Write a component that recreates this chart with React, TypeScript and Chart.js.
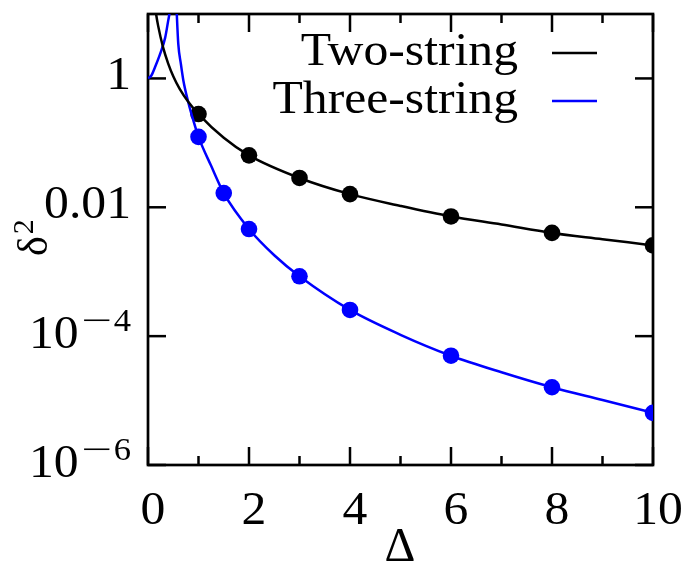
import React, { useEffect, useRef } from "react";
import Chart from "chart.js/auto";

// Data points (markers)
const twoStringX = [1, 2, 3, 4, 6, 8, 10];
const twoStringY = [0.28, 0.064, 0.0285, 0.016, 0.0072, 0.004, 0.00256];
const threeStringX = [1, 1.5, 2, 3, 4, 6, 8, 10];
const threeStringY = [0.124, 0.0166, 0.0046, 0.00085, 0.000255, 0.0000497, 0.0000161, 0.00000645];

// Fitted curves
const twoFitX = [0.14, 0.16, 0.2, 0.3, 0.4, 0.5, 0.63, 0.8, 1, 1.5, 2, 3, 4, 5, 6, 7, 8, 9, 10];
const twoFitY = [13, 10, 6.6, 3.0, 1.7, 1.08, 0.68, 0.43, 0.28, 0.12, 0.064, 0.0285, 0.016, 0.0105, 0.0072, 0.0054, 0.004, 0.0032, 0.00256];
const threeFitRiseX = [0, 0.07, 0.14, 0.24, 0.34, 0.4, 0.44, 0.47];
const threeFitRiseY = [1, 1.12, 1.5, 2.4, 4.3, 7.9, 12, 20];
const threeFitFallX = [0.55, 0.57, 0.6, 0.65, 0.7, 0.8, 0.9, 1, 1.25, 1.5, 2, 2.5, 3, 4, 5, 6, 7, 8, 9, 10];
const threeFitFallY = [25, 10, 3.4, 1.7, 0.93, 0.42, 0.22, 0.124, 0.044, 0.0166, 0.0046, 0.0018, 0.00085, 0.000255, 0.000105, 0.0000497, 0.0000275, 0.0000161, 0.0000102, 0.00000645];

// Axes
const xMajorTicks = [0, 2, 4, 6, 8, 10];
const xMinorTicks = [1, 3, 5, 7, 9];
const xTickLabels = ["0", "2", "4", "6", "8", "10"];
const yTicks = [1e-6, 1e-4, 0.01, 1];
const yTickBase = ["10", "10", "0.01", "1"];
const yTickExp = ["−6", "−4", "", ""];
const seriesNames = ["Two-string", "Three-string"];
const seriesColors = ["#000000", "#0000ff"];

const FONT = '"Liberation Serif", "DejaVu Serif", serif';
const SX = 1.08;

const zip = (xs: number[], ys: number[]) => xs.map((x, i) => ({ x, y: ys[i] }));

// draw text with a slight horizontal stretch
function txt(ctx: CanvasRenderingContext2D, s: string, x: number, y: number, align: "left" | "right" | "center", sx = SX) {
  const w = ctx.measureText(s).width * sx;
  let left = x;
  if (align === "right") left = x - w;
  else if (align === "center") left = x - w / 2;
  ctx.save();
  ctx.textAlign = "left";
  ctx.translate(left, y);
  ctx.scale(sx, 1);
  ctx.fillText(s, 0, 0);
  ctx.restore();
  return w;
}

const framePlugin = {
  id: "framePlugin",
  beforeDatasetsDraw(chart: any) {
    const { ctx, chartArea: a, scales } = chart;
    const x = scales.x;
    const y = scales.y;
    ctx.save();
    ctx.strokeStyle = "#000";
    ctx.lineWidth = 2.7;
    ctx.strokeRect(a.left, a.top, a.right - a.left, a.bottom - a.top);
    const seg = (x1: number, y1: number, x2: number, y2: number) => {
      ctx.beginPath();
      ctx.moveTo(x1, y1);
      ctx.lineTo(x2, y2);
      ctx.stroke();
    };
    ctx.lineWidth = 2.5;
    xMajorTicks.forEach((v) => {
      const p = x.getPixelForValue(v);
      seg(p, a.bottom, p, a.bottom - 18);
      seg(p, a.top, p, a.top + 18);
    });
    xMinorTicks.forEach((v) => {
      const p = x.getPixelForValue(v);
      seg(p, a.bottom, p, a.bottom - 9);
      seg(p, a.top, p, a.top + 9);
    });
    yTicks.forEach((v) => {
      const p = y.getPixelForValue(v);
      seg(a.left, p, a.left + 18, p);
      seg(a.right, p, a.right - 18, p);
    });
    ctx.restore();
  },
  afterDraw(chart: any) {
    const { ctx, scales } = chart;
    const x = scales.x;
    const y = scales.y;
    ctx.save();
    ctx.fillStyle = "#000";
    ctx.textBaseline = "alphabetic";
    // x tick labels
    ctx.font = `46px ${FONT}`;
    xMajorTicks.forEach((v, i) => {
      txt(ctx, xTickLabels[i], x.getPixelForValue(v) + 5, 524, "center");
    });
    // y tick labels
    yTicks.forEach((v, i) => {
      const p = y.getPixelForValue(v);
      if (yTickExp[i]) {
        ctx.font = `32px ${FONT}`;
        const exp = yTickExp[i];
        const digit = exp.slice(1);
        const dw = txt(ctx, digit, 131, p - 5, "right");
        ctx.save();
        ctx.translate(131 - dw - 2, p - 5);
        ctx.scale(1.7, 1);
        ctx.textAlign = "right";
        ctx.fillText("−", 0, 0);
        ctx.restore();
        ctx.font = `46px ${FONT}`;
        txt(ctx, yTickBase[i], 29, p + 12, "left");
      } else {
        ctx.font = `46px ${FONT}`;
        txt(ctx, yTickBase[i], 131, p + 11, "right");
      }
    });
    // x axis title
    ctx.font = `48px ${FONT}`;
    txt(ctx, "Δ", 400, 561, "center", 1.0);
    // y axis title (rotated)
    ctx.save();
    ctx.translate(47, 256);
    ctx.rotate(-Math.PI / 2);
    ctx.textAlign = "left";
    ctx.font = `42px ${FONT}`;
    ctx.fillText("δ", 0, 0);
    const w = ctx.measureText("δ").width;
    ctx.font = `30px ${FONT}`;
    ctx.fillText("2", w + 2, -14);
    ctx.restore();
    // legend
    ctx.font = `46px ${FONT}`;
    const baselines = [65, 113];
    seriesNames.forEach((name, i) => {
      ctx.fillStyle = "#000";
      txt(ctx, name, 518, baselines[i], "right");
      ctx.strokeStyle = seriesColors[i];
      ctx.lineWidth = 2.5;
      ctx.beginPath();
      ctx.moveTo(552, baselines[i] - 12);
      ctx.lineTo(597, baselines[i] - 12);
      ctx.stroke();
    });
    ctx.restore();
  },
};

export default function App() {
  const ref = useRef<HTMLCanvasElement | null>(null);
  useEffect(() => {
    if (!ref.current) return;
    const lineDs = (data: any[], color: string) => ({
      type: "line" as const,
      data,
      showLine: true,
      borderColor: color,
      backgroundColor: color,
      borderWidth: 2.5,
      pointRadius: 0,
      pointHoverRadius: 0,
      cubicInterpolationMode: "monotone" as const,
      fill: false,
    });
    const pointDs = (data: any[], color: string) => ({
      type: "scatter" as const,
      data,
      showLine: false,
      borderColor: color,
      backgroundColor: color,
      pointRadius: 8.3,
      pointBorderWidth: 0,
      pointHoverRadius: 8.3,
    });
    const chart = new Chart(ref.current, {
      type: "scatter",
      data: {
        datasets: [
          lineDs(zip(twoFitX, twoFitY), seriesColors[0]),
          lineDs(zip(threeFitRiseX, threeFitRiseY), seriesColors[1]),
          lineDs(zip(threeFitFallX, threeFitFallY), seriesColors[1]),
          pointDs(zip(twoStringX, twoStringY), seriesColors[0]),
          pointDs(zip(threeStringX, threeStringY), seriesColors[1]),
        ] as any,
      },
      options: {
        responsive: false,
        animation: false,
        devicePixelRatio: 1,
        layout: { padding: { left: 148, top: 14, right: 31, bottom: 97 } },
        plugins: { legend: { display: false }, tooltip: { enabled: false } },
        scales: {
          x: { type: "linear", min: 0, max: 10, display: false },
          y: { type: "logarithmic", min: 1e-6, max: 10, display: false },
        },
      },
      plugins: [framePlugin],
    });
    return () => chart.destroy();
  }, []);
  return (
    <div style={{ position: "fixed", left: 0, top: 0, width: 684, height: 562, background: "#fff" }}>
      <canvas ref={ref} width={684} height={562} />
    </div>
  );
}
